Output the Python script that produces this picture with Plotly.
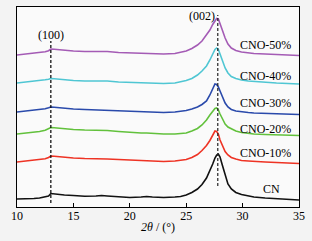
import plotly.graph_objects as go

# 2theta (degrees)
two_theta = [10, 10.5, 11, 11.5, 12, 12.5, 12.8, 13.0, 13.3, 13.7, 14.2, 15, 16, 17, 17.5, 18,
             19, 20, 21, 21.5, 22, 23, 24, 24.5, 25, 25.5, 26, 26.4, 26.8, 27.1, 27.35, 27.55,
             27.7, 27.85, 28.0, 28.2, 28.45, 28.7, 29.0, 29.4, 29.9, 30.5, 31, 32, 33, 34, 35]

# stacked intensities (a.u., offset)
cn = [8, 8, 8.2, 8.5, 9, 9.8, 11, 13.5, 13, 12.5, 12, 11.5, 10.8, 11, 11.5, 11,
      10, 9.5, 10, 10.5, 10, 9.5, 10, 10.5, 12, 14.5, 18, 22.5, 29, 36, 43, 49,
      52, 53, 50, 42, 31, 23, 18, 14.5, 12.5, 11, 10, 9, 8.5, 7.5, 7]
cno10 = [45, 45.5, 46, 46.5, 47, 48.2, 49.5, 51, 50.8, 50.3, 49.8, 49, 48.5, 48.5, 48.5, 48,
         47.5, 47, 46.5, 46.5, 46, 45.5, 46, 46.5, 47.5, 49.5, 52.5, 56.5, 61.5, 66.5, 71.5, 76,
         75.5, 73, 67, 61, 55.5, 52, 49.5, 48, 46.5, 46, 45.5, 45, 44.5, 44, 43.5]
cno20 = [73, 73.5, 74, 74.5, 75.5, 76.8, 78, 79.5, 79.3, 78.8, 78.2, 77.5, 77, 77, 77, 76.5,
         75.5, 74.5, 74, 74, 73.5, 73, 73, 73.5, 74, 76, 78.5, 82, 87, 92, 96, 98.5,
         99, 97, 93, 88, 83, 80, 78, 76, 74.5, 73.5, 73, 72.5, 72, 72, 71.5]
cno30 = [95, 95.5, 96, 96.5, 97, 98.2, 99.2, 100, 99.8, 99.3, 98.8, 98, 97.5, 97, 97, 96.5,
         96, 95.5, 95, 95, 94.5, 94.5, 95, 95.5, 96.5, 98, 100, 102.5, 106, 112, 118, 123,
         122.5, 120, 116, 110, 104, 100, 97.5, 96, 95, 94.5, 94, 93.5, 93, 93, 92.5]
cno40 = [124, 124.5, 125, 125.5, 126, 127.2, 127.8, 128.5, 128.3, 127.8, 127.3, 126.5, 126, 126, 126.5, 126,
         125, 124.5, 124, 124, 123.5, 123.5, 124, 125, 126.5, 128.5, 132, 136, 141, 147, 153, 157.5,
         159, 157.5, 153, 146, 139, 134, 130.5, 128.5, 127, 126, 125.5, 124.5, 124, 123.5, 123]
cno50 = [152, 152.5, 153, 153.5, 154, 155.2, 156.3, 158, 157.8, 157.3, 156.8, 156, 155.5, 155.5, 156, 155.5,
         154.5, 154, 153.5, 153.5, 153, 153, 153.5, 154.5, 156, 158.5, 162, 166, 172, 177, 182.5, 186.5,
         188.5, 188, 184, 177, 169, 163, 159, 156.5, 155, 154, 153.5, 153, 152.5, 152, 151.5]

series_names = ["CN", "CNO-10%", "CNO-20%", "CNO-30%", "CNO-40%", "CNO-50%"]
series_values = [cn, cno10, cno20, cno30, cno40, cno50]
series_colors = ["#111111", "#ee3324", "#62c13c", "#2a4aab", "#4fc6d3", "#a45bb5"]

# label positions (2theta, intensity)
label_x = [32.55, 34.45, 34.45, 34.45, 34.45, 34.45]
label_y = [18.5, 54.5, 78.5, 104, 131, 162]

peak_100 = 13.0
peak_002 = 27.8
peak_labels = ["(100)", "(002)"]

FONT = "'Liberation Serif', 'Times New Roman', serif"

fig = go.Figure()
for name, vals, col in zip(series_names, series_values, series_colors):
    fig.add_trace(go.Scatter(x=two_theta, y=vals, mode="lines", name=name,
                             line=dict(color=col, width=1.6), showlegend=False))

# dashed reference lines
fig.add_trace(go.Scatter(x=[peak_100, peak_100], y=[4, 166], mode="lines",
                         line=dict(color="#000000", width=1.2, dash="3px,2px"), showlegend=False))
fig.add_trace(go.Scatter(x=[peak_002, peak_002], y=[21, 192], mode="lines",
                         line=dict(color="#222222", width=1.2, dash="3px,2px"), showlegend=False))

fig.add_annotation(x=peak_100, y=172, text=peak_labels[0], showarrow=False,
                   font=dict(family=FONT, size=12, color="#000"), xanchor="center", yanchor="middle")
fig.add_annotation(x=peak_002, y=191, text=peak_labels[1], showarrow=False,
                   font=dict(family=FONT, size=12, color="#000"), xanchor="right", yanchor="middle", xshift=-1)

for name, lx, ly in zip(series_names, label_x, label_y):
    fig.add_annotation(x=lx, y=ly, text=name, showarrow=False,
                       xanchor="center" if name == "CN" else "right",
                       font=dict(family=FONT, size=12, color="#000"))

fig.update_layout(
    width=312, height=241,
    margin=dict(l=17, r=13, t=7, b=34, autoexpand=False),
    paper_bgcolor="#f3f3f3", plot_bgcolor="#fafafa",
    font=dict(family=FONT, size=12, color="#000"),
    xaxis=dict(range=[10, 35], tickvals=[10, 15, 20, 25, 30, 35], ticks="inside", ticklen=4,
               tickwidth=1, tickcolor="#000", showline=True, linecolor="#000", linewidth=1.3,
               mirror=True, showgrid=False, zeroline=False, automargin=False,
               ticklabelstandoff=-3,
               title=dict(text="<i>2θ</i> / (°)", standoff=1, font=dict(family=FONT, size=12)),
               tickfont=dict(family=FONT, size=12)),
    yaxis=dict(range=[0, 200], showticklabels=False, ticks="", showline=True, linecolor="#000",
               linewidth=1.3, mirror=True, showgrid=False, zeroline=False, automargin=False),
)

fig.write_html("out.html", config={"displayModeBar": False},
               post_script="document.body.style.margin='0';document.body.style.overflow='hidden';")
